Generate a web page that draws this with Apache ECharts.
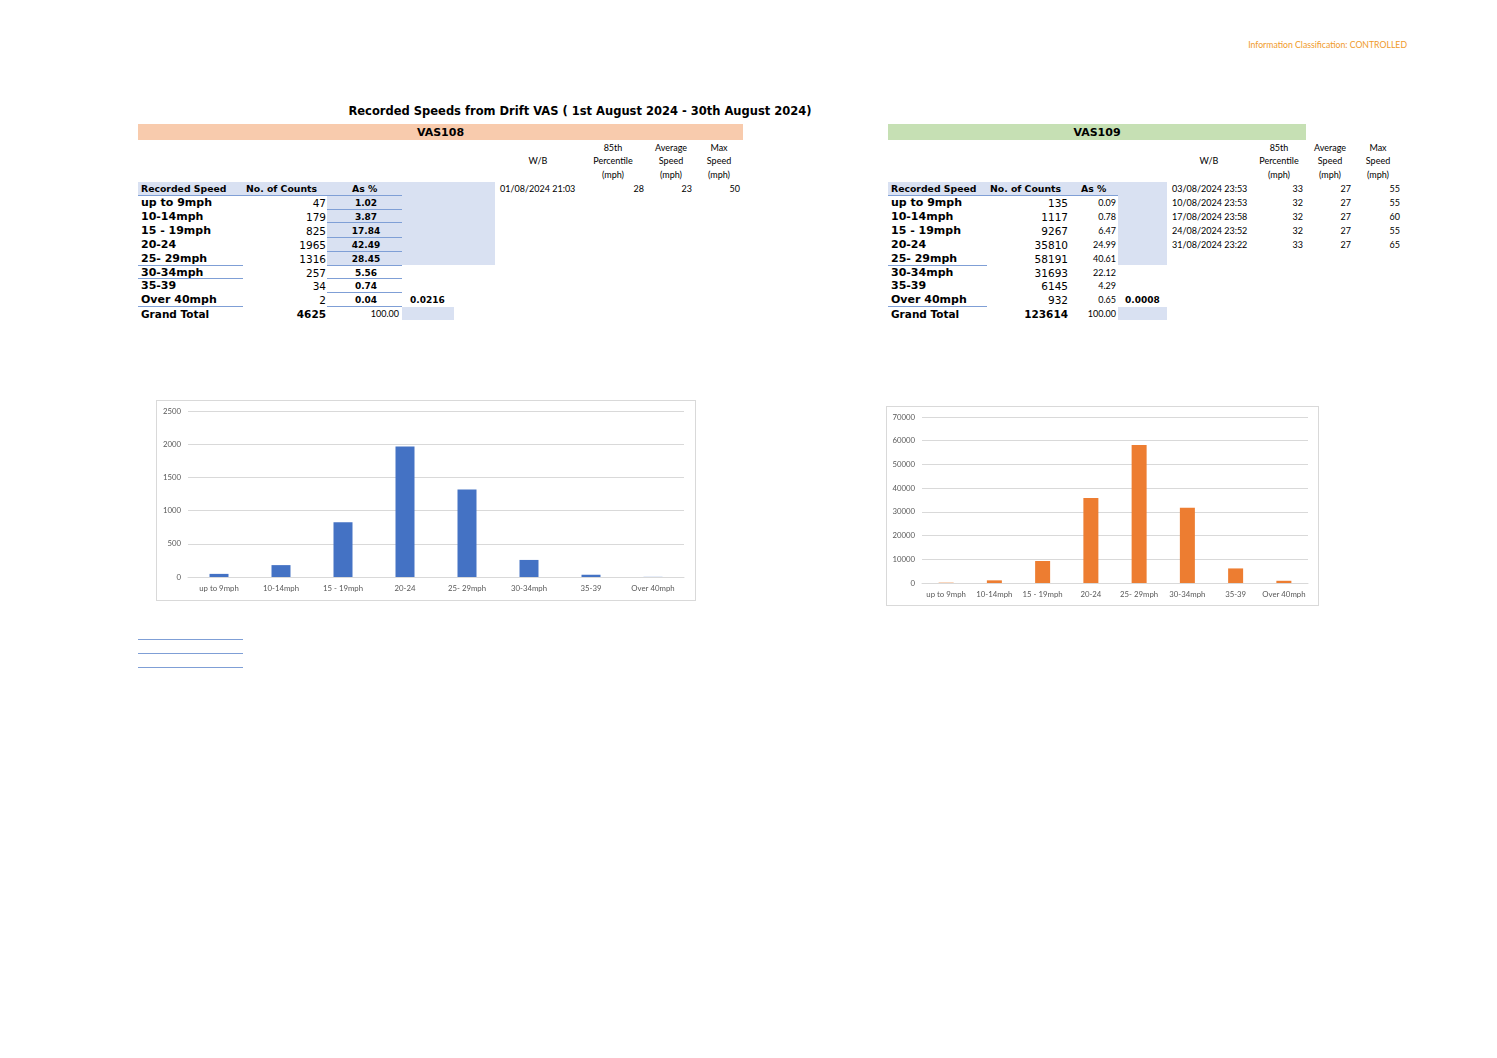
<!DOCTYPE html>
<html>
<head>
<meta charset="utf-8">
<title>Recorded Speeds from Drift VAS</title>
<script src="https://cdn.jsdelivr.net/npm/echarts@6/dist/echarts.min.js"></script>
<style>
  html, body { margin: 0; padding: 0; background: #fff; }
  #page { position: relative; width: 1497px; height: 1058px; overflow: hidden; }
  .t { position: absolute; white-space: nowrap; height: 14px; line-height: 14px; color: #000; }
  .box { position: absolute; }
  .chart { position: absolute; border: 1px solid #D9D9D9; box-sizing: border-box; }
</style>
</head>
<body>
<div id="page"></div>
<script>
// Speed bands (table rows and chart categories)
const speedBands = ['up to 9mph', '10-14mph', '15 - 19mph', '20-24', '25- 29mph', '30-34mph', '35-39', 'Over 40mph'];

// VAS108
const vas108Counts = [47, 179, 825, 1965, 1316, 257, 34, 2];
const vas108Pct = ['1.02', '3.87', '17.84', '42.49', '28.45', '5.56', '0.74', '0.04'];
const vas108Total = 4625;
const vas108Extra = '0.0216';
const vas108Readings = [
    ['01/08/2024 21:03', 28, 23, 50]
];

// VAS109
const vas109Counts = [135, 1117, 9267, 35810, 58191, 31693, 6145, 932];
const vas109Pct = ['0.09', '0.78', '6.47', '24.99', '40.61', '22.12', '4.29', '0.65'];
const vas109Total = 123614;
const vas109Extra = '0.0008';
const vas109Readings = [
    ['03/08/2024 23:53', 33, 27, 55],
    ['10/08/2024 23:53', 32, 27, 55],
    ['17/08/2024 23:58', 32, 27, 60],
    ['24/08/2024 23:52', 32, 27, 55],
    ['31/08/2024 23:22', 33, 27, 65]
];

// Axis ticks
const vas108Ticks = { max: 2500, interval: 500 };
const vas109Ticks = { max: 70000, interval: 10000 };

const page = document.getElementById('page');
const VERDANA = '"DejaVu Sans", Verdana, sans-serif';
const CALIBRI = 'Lato, "Open Sans", sans-serif';
const LINE = '#7F9FD6';
const CELL = '#D9E1F2';

// Places a text centred vertically on y, anchored left / right / centre on x
function txt(x, y, str, opts = {}) {
    const el = document.createElement('div');
    el.className = 't';
    el.textContent = str;
    el.style.top = (y - 6.5) + 'px';
    el.style.fontFamily = opts.font || VERDANA;
    el.style.fontSize = (opts.size || 10) + 'px';
    if (opts.bold) el.style.fontWeight = 'bold';
    if (opts.color) el.style.color = opts.color;
    const align = opts.align || 'l';
    if (align === 'l') {
        el.style.left = x + 'px';
    } else if (align === 'r') {
        el.style.right = (1497 - x) + 'px';
    } else {
        el.style.left = x + 'px';
        el.style.transform = 'translateX(-50%)';
    }
    page.appendChild(el);
    return el;
}

function rect(x1, y1, x2, y2, color) {
    const el = document.createElement('div');
    el.className = 'box';
    el.style.left = x1 + 'px';
    el.style.top = y1 + 'px';
    el.style.width = (x2 - x1) + 'px';
    el.style.height = (y2 - y1) + 'px';
    el.style.background = color;
    page.appendChild(el);
}

function hline(x1, x2, y) {
    rect(x1, y, x2, y + 1, LINE);
}

// Header
txt(1407, 44, 'Information Classification: CONTROLLED', { font: CALIBRI, size: 8.7, color: '#F09A2A', align: 'r' });
txt(580, 110, 'Recorded Speeds from Drift VAS ( 1st August 2024 - 30th August 2024)', { size: 11.5, bold: true, align: 'c' });

const rowY = [202, 216, 230, 244, 258, 272, 285, 299];
const headY = 188;
const totalY = 313;

/**
 * Draws one VAS block: banner, summary table and readings table
 */
function drawBlock(cfg) {
    // Banner
    rect(cfg.x0, 124, cfg.bannerEnd, 140, cfg.bannerColor);
    txt((cfg.x0 + cfg.bannerEnd) / 2, 132, cfg.name, { size: 11, bold: true, align: 'c' });

    // Shaded cells
    rect(cfg.x0, headY - 6, cfg.shadeEnd, headY + 7, CELL);
    rect(cfg.shadeStart, rowY[0] - 7, cfg.shadeEnd, rowY[4] + 7, CELL);
    rect(cfg.totalStart, totalY - 6, cfg.totalEnd, totalY + 7, CELL);

    // Column headers
    txt(cfg.x0 + 3, headY, 'Recorded Speed', { size: 9.3, bold: true });
    txt(cfg.countHeadX, headY, 'No. of Counts', { size: 9.3, bold: true });
    txt(cfg.pctHeadX, headY, 'As %', { size: 9.3, bold: true });

    // Rows
    speedBands.forEach((band, i) => {
        txt(cfg.x0 + 3, rowY[i], band, { size: 11, bold: true });
        txt(cfg.countX, rowY[i], String(cfg.counts[i]), { size: 10.5, align: 'r' });
        if (cfg.pctBold) {
            txt(cfg.pctX, rowY[i], cfg.pct[i], { size: 9, bold: true, align: 'c' });
        } else {
            txt(cfg.pctX, rowY[i], cfg.pct[i], { font: CALIBRI, size: 9, align: 'r' });
        }
    });
    txt(cfg.extraX, rowY[7], cfg.extra, { size: 9, bold: true });

    // Grand total
    txt(cfg.x0 + 3, totalY, 'Grand Total', { size: 10.5, bold: true });
    txt(cfg.countX, totalY, String(cfg.total), { size: 10.5, bold: true, align: 'r' });
    txt(cfg.totalPctX, totalY, '100.00', { font: CALIBRI, size: 9, align: 'r' });

    // Borders
    cfg.lines.forEach(([x1, x2, y]) => hline(x1, x2, y));

    // Readings
    const r = cfg.read;
    txt(r.wb, 160, 'W/B', { font: CALIBRI, size: 9, align: 'c' });
    [['85th', 'Percentile', '(mph)', r.c1], ['Average', 'Speed', '(mph)', r.c2], ['Max', 'Speed', '(mph)', r.c3]]
        .forEach(([a, b, c, x]) => {
            txt(x, 147, a, { font: CALIBRI, size: 9, align: 'c' });
            txt(x, 160, b, { font: CALIBRI, size: 9, align: 'c' });
            txt(x, 174, c, { font: CALIBRI, size: 9, align: 'c' });
        });
    cfg.readings.forEach((row, i) => {
        const y = headY + i * 14;
        txt(r.date, y, row[0], { font: CALIBRI, size: 9 });
        txt(r.v1, y, String(row[1]), { font: CALIBRI, size: 9, align: 'r' });
        txt(r.v2, y, String(row[2]), { font: CALIBRI, size: 9, align: 'r' });
        txt(r.v3, y, String(row[3]), { font: CALIBRI, size: 9, align: 'r' });
    });
}

drawBlock({
    name: 'VAS108', x0: 138, bannerEnd: 743, bannerColor: '#F8CBAD',
    shadeStart: 327, shadeEnd: 495, totalStart: 402, totalEnd: 454,
    countHeadX: 246, pctHeadX: 352, countX: 326, pctX: 366, pctBold: true,
    extraX: 410, totalPctX: 399,
    counts: vas108Counts, pct: vas108Pct, total: vas108Total, extra: vas108Extra,
    readings: vas108Readings,
    lines: [
        [138, 402, 195], [327, 402, 209], [327, 402, 222], [327, 402, 237], [327, 402, 251],
        [138, 243, 265], [327, 402, 265], [138, 243, 278], [327, 402, 278], [327, 402, 292],
        [138, 243, 306], [327, 402, 306]
    ],
    read: { wb: 538, c1: 613, c2: 671, c3: 719, date: 500, v1: 644, v2: 692, v3: 740 }
});

drawBlock({
    name: 'VAS109', x0: 888, bannerEnd: 1306, bannerColor: '#C6E0B4',
    shadeStart: 1118, shadeEnd: 1167, totalStart: 1118, totalEnd: 1167,
    countHeadX: 990, pctHeadX: 1081, countX: 1068, pctX: 1116, pctBold: false,
    extraX: 1125, totalPctX: 1116,
    counts: vas109Counts, pct: vas109Pct, total: vas109Total, extra: vas109Extra,
    readings: vas109Readings,
    lines: [[888, 1118, 195], [888, 987, 265], [888, 987, 306]],
    read: { wb: 1209, c1: 1279, c2: 1330, c3: 1378, date: 1172, v1: 1303, v2: 1351, v3: 1400 }
});

// Stray border lines below the tables
hline(138, 243, 639);
hline(138, 243, 653);
hline(138, 243, 667);

/**
 * Builds a column chart in an Excel-like style
 */
function buildChart(box, grid, counts, ticks, color, barWidth) {
    const el = document.createElement('div');
    el.className = 'chart';
    el.style.left = box[0] + 'px';
    el.style.top = box[1] + 'px';
    el.style.width = box[2] + 'px';
    el.style.height = box[3] + 'px';
    page.appendChild(el);
    const chart = echarts.init(el, null, { renderer: 'canvas' });
    chart.setOption({
        animation: false,
        grid: { left: grid[0], right: grid[1], top: grid[2], bottom: grid[3], containLabel: false, outerBoundsMode: 'none' },
        xAxis: {
            type: 'category',
            data: speedBands,
            axisLine: { lineStyle: { color: '#D9D9D9' } },
            axisTick: { show: false },
            axisLabel: { color: '#595959', fontFamily: CALIBRI, fontSize: 7.8, margin: 7, interval: 0 }
        },
        yAxis: {
            type: 'value',
            min: 0,
            max: ticks.max,
            interval: ticks.interval,
            axisLine: { show: false },
            axisTick: { show: false },
            splitLine: { lineStyle: { color: '#D9D9D9' } },
            axisLabel: {
                color: '#595959', fontFamily: CALIBRI, fontSize: 7.8, margin: 7,
                formatter: (v) => String(v)
            }
        },
        series: [{
            type: 'bar',
            data: counts,
            barWidth: barWidth,
            itemStyle: { color: color }
        }]
    });
}

buildChart([156, 400, 540, 201], [31, 11, 10, 23], vas108Counts, vas108Ticks, '#4472C4', 19);
buildChart([886, 406, 433, 200], [35, 10, 10, 22], vas109Counts, vas109Ticks, '#ED7D31', 15);
</script>
</body>
</html>
